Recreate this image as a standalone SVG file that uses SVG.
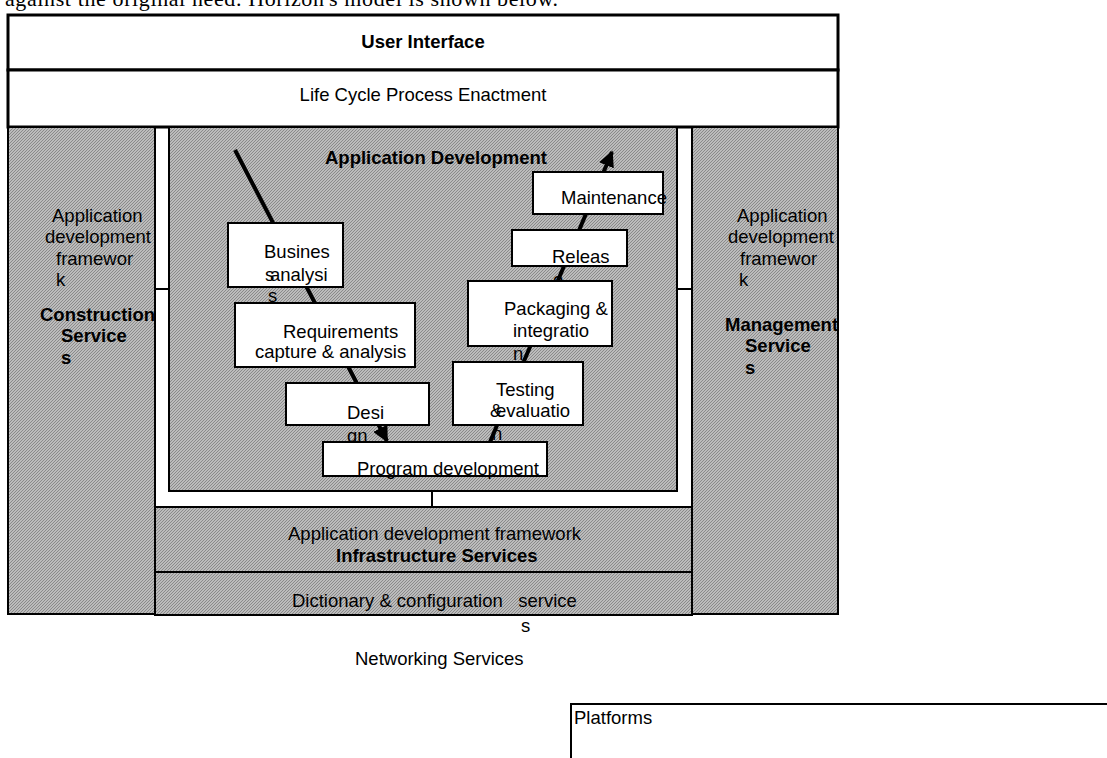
<svg xmlns="http://www.w3.org/2000/svg" width="1107" height="758" viewBox="0 0 1107 758">
<defs>
<pattern id="hatch" width="3" height="3" patternUnits="userSpaceOnUse">
<rect width="3" height="3" fill="#bcbcbc"/>
<path d="M-1,1 L1,-1 M0,3 L3,0 M2,4 L4,2" stroke="#858585" stroke-width="0.9"/>
</pattern>
<marker id="arr" viewBox="0 0 10 10" refX="9" refY="5" markerWidth="4" markerHeight="4" orient="auto" markerUnits="strokeWidth">
<path d="M0,0 L10,5 L0,10 Z" fill="#000"/>
</marker>
<style>
text{font-family:"Liberation Sans",Arial,sans-serif;font-size:18.5px;fill:#000}
.b{font-weight:bold}
.box{fill:#fff;stroke:#000;stroke-width:2}
.gray{fill:url(#hatch);stroke:#000;stroke-width:2}
.frame{fill:#fff;stroke:#000;stroke-width:3}
.line{stroke:#000;stroke-width:2;fill:none}
.conn{stroke:#000;stroke-width:4;fill:none}
</style>
</defs>
<rect width="1107" height="758" fill="#fff"/>
<text x="5" y="6" style="font-family:'Liberation Serif',serif;font-size:22px" textLength="553">against the original need. Horizon's model is shown below.</text>

<g id="user-interface">
<rect class="frame" x="8" y="15" width="830" height="55"/>
<text class="b" x="423" y="48" text-anchor="middle">User Interface</text>
</g>
<g id="life-cycle">
<rect class="frame" x="8" y="70" width="830" height="57"/>
<text x="423" y="101" text-anchor="middle">Life Cycle Process Enactment</text>
</g>

<g id="construction-services">
<rect class="gray" x="8" y="127" width="147" height="487"/>
<text x="52" y="222">Application</text>
<text x="45" y="243">development</text>
<text x="56" y="265">framewor</text>
<text x="56" y="286">k</text>
<text class="b" x="40" y="321">Construction</text>
<text class="b" x="61" y="342">Service</text>
<text class="b" x="61" y="364">s</text>
</g>

<g id="management-services">
<rect class="gray" x="692" y="127" width="146" height="487"/>
<text x="737" y="222">Application</text>
<text x="728" y="243">development</text>
<text x="740" y="265">framewor</text>
<text x="739" y="286">k</text>
<text class="b" x="725" y="331">Management</text>
<text class="b" x="745" y="352">Service</text>
<text class="b" x="745" y="374">s</text>
</g>

<g id="application-development">
<rect class="gray" x="169" y="127" width="508" height="364"/>
<text class="b" x="325" y="164">Application Development</text>
</g>

<g id="infrastructure-services">
<rect class="gray" x="155" y="507" width="537" height="65"/>
<text x="288" y="540">Application development framework</text>
<text class="b" x="336" y="562">Infrastructure Services</text>
</g>

<g id="dictionary">
<rect class="gray" x="155" y="572" width="537" height="43"/>
<text x="292" y="607" xml:space="preserve">Dictionary &amp; configuration   service</text>
<text x="521" y="632">s</text>
</g>

<g id="networking">
<text x="355" y="665">Networking Services</text>
</g>

<g id="platforms">
<rect x="571" y="704" width="560" height="80" fill="#fff" stroke="#000" stroke-width="2"/>
<text x="574" y="724">Platforms</text>
</g>

<g id="connectors">
<line class="line" x1="155" y1="289" x2="169" y2="289"/>
<line class="line" x1="677" y1="289" x2="692" y2="289"/>
<line class="line" x1="432" y1="491" x2="432" y2="507"/>
<line class="conn" x1="235" y1="150" x2="387" y2="441" marker-end="url(#arr)"/>
<line class="conn" x1="490" y1="442" x2="612" y2="152" marker-end="url(#arr)"/>
</g>

<g id="maintenance">
<rect class="box" x="533" y="172" width="130" height="42"/>
<text x="561" y="204">Maintenance</text>
</g>
<g id="release">
<rect class="box" x="512" y="230" width="115" height="36"/>
<text x="552" y="263">Releas</text>
<text x="553" y="286">e</text>
</g>
<g id="packaging">
<rect class="box" x="468" y="281" width="144" height="65"/>
<text x="504" y="315">Packaging &amp;</text>
<text x="513" y="337">integratio</text>
<text x="513" y="360">n</text>
</g>
<g id="testing">
<rect class="box" x="453" y="362" width="130" height="63"/>
<text x="496" y="396">Testing</text>
<text x="490" y="417">&amp;</text>
<text x="496" y="417">evaluatio</text>
<text x="492" y="440">n</text>
</g>
<g id="business-analysis">
<rect class="box" x="228" y="223" width="115" height="64"/>
<text x="264" y="258">Busines</text>
<text x="265" y="281">s</text>
<text x="270" y="281">analysi</text>
<text x="268" y="302">s</text>
</g>
<g id="requirements">
<rect class="box" x="235" y="303" width="180" height="64"/>
<text x="283" y="338">Requirements</text>
<text x="255" y="358">capture &amp; analysis</text>
</g>
<g id="design">
<rect class="box" x="286" y="383" width="143" height="42"/>
<text x="347" y="419">Desi</text>
<text x="347" y="442">gn</text>
</g>
<g id="program-development">
<rect class="box" x="323" y="442" width="224" height="34"/>
<text x="357" y="475">Program development</text>
</g>
</svg>
